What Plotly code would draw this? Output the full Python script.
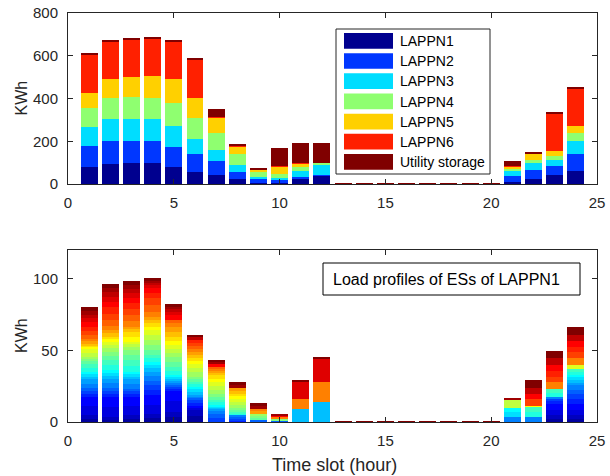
import plotly.graph_objects as go

# ---------------- data ----------------
hours = list(range(1, 25))
x_tick_vals = [0, 5, 10, 15, 20, 25]
top_y_ticks = [0, 200, 400, 600, 800]
bottom_y_ticks = [0, 50, 100]

series_names = ["LAPPN1", "LAPPN2", "LAPPN3", "LAPPN4", "LAPPN5", "LAPPN6", "Utility storage"]

lappn1 = [78, 94, 97, 97, 78, 56, 41, 23, 6, 3, 28, 41, 0, 0, 0, 0, 0, 0, 0, 0, 11, 25, 44, 62]
lappn2 = [100, 109, 103, 106, 94, 83, 65, 32, 16, 14, 5, 3, 0, 0, 0, 0, 0, 0, 0, 0, 26, 42, 42, 77]
lappn3 = [90, 103, 103, 101, 101, 70, 51, 32, 12, 13, 28, 43, 0, 0, 0, 0, 0, 0, 0, 0, 24, 33, 28, 61]
lappn4 = [88, 98, 104, 100, 105, 98, 80, 55, 22, 15, 20, 13, 0, 0, 0, 0, 0, 0, 0, 0, 11, 12, 17, 39]
lappn5 = [70, 86, 94, 101, 113, 97, 72, 33, 11, 39, 16, 0, 0, 0, 0, 0, 0, 0, 0, 0, 11, 30, 22, 34]
lappn6 = [178, 178, 174, 178, 177, 179, 3, 3, 3, 2, 3, 0, 0, 0, 0, 0, 0, 0, 0, 0, 3, 3, 178, 173]
utility = [7, 6, 10, 7, 7, 5, 39, 5, 5, 82, 90, 93, 3, 3, 3, 3, 3, 3, 3, 3, 22, 6, 6, 9]

top_colors = ["#00008F", "#0037FF", "#00DDFF", "#8FFF70", "#FFD000", "#FF2000", "#800000"]

# Load of each of the 32 ESs of LAPPN1, one list per hour (ES1 ... ES32)
h01 = [2.3, 2.4, 6.4, 6.4, 2.1, 2.1, 2.1, 3.0, 3.1, 1.7, 1.7, 1.7, 2.9, 2.9, 1.6, 1.6,
       1.5, 2.6, 2.6, 1.5, 1.5, 1.3, 1.3, 1.6, 2.7, 2.7, 2.7, 4.0, 2.5, 2.5, 2.5, 2.5]
h02 = [1.7, 1.8, 7.0, 7.0, 2.1, 2.1, 2.1, 3.2, 3.3, 2.0, 2.0, 2.0, 3.5, 3.5, 2.8, 2.7,
       2.7, 2.3, 2.2, 1.8, 1.7, 2.4, 2.3, 3.0, 4.0, 4.4, 4.4, 4.0, 3.5, 3.0, 2.7, 3.3]
h03 = [2.3, 2.4, 6.4, 6.4, 1.9, 1.9, 2.0, 3.3, 3.3, 1.7, 1.7, 1.7, 4.0, 4.2, 3.5, 3.5,
       2.0, 1.9, 1.9, 3.5, 3.5, 1.7, 1.8, 4.1, 4.1, 4.1, 4.1, 3.5, 3.3, 3.0, 3.0, 3.0]
h04 = [2.9, 2.9, 6.4, 6.5, 3.5, 3.5, 3.0, 3.2, 3.1, 2.4, 2.3, 2.3, 2.4, 2.3, 3.5, 3.5,
       3.5, 3.5, 3.5, 2.4, 2.3, 2.3, 2.3, 3.5, 4.8, 4.8, 3.3, 3.5, 2.0, 1.7, 1.6, 1.7]
h05 = [3.5, 3.5, 7.6, 7.6, 1.2, 1.2, 1.2, 1.7, 1.7, 1.2, 1.2, 1.1, 2.9, 2.9, 3.5, 3.5,
       2.6, 2.8, 2.8, 2.9, 2.9, 3.5, 3.5, 2.4, 2.4, 0, 0, 3.4, 2.0, 1.9, 1.9, 1.9]
h06 = [4.1, 4.1, 1.5, 1.5, 2.3, 2.4, 1.0, 1.1, 1.1, 1.8, 1.8, 1.8, 1.8, 1.8, 1.7, 1.7,
       3.3, 3.0, 3.0, 2.1, 2.1, 2.0, 2.0, 2.0, 2.1, 2.1, 2.0, 0, 0, 1.8, 0, 1.7]
h07 = [0, 0, 0, 0, 0, 2.9, 2.9, 1.8, 1.7, 0.8, 0.8, 0.8, 2.0, 2.0, 1.8, 1.8,
       2.9, 2.9, 2.9, 2.3, 2.3, 1.8, 1.8, 1.2, 1.2, 0, 0, 1.6, 0, 0, 1.5, 1.6]
h08 = [0, 0, 0, 0, 1.3, 1.3, 1.3, 1.2, 0, 0, 0, 0, 1.0, 1.0, 1.1, 1.9,
       1.9, 2.1, 2.1, 1.8, 1.8, 2.0, 2.0, 0, 0, 0, 0, 0, 0, 0, 2.1, 2.1]
h09 = [0, 0, 0, 0, 0, 0, 1.6, 0, 0, 0, 0, 0, 0, 0, 1.3, 1.4,
       1.3, 0, 0, 0, 0, 0, 1.8, 1.9, 0, 0, 0, 0, 0, 0, 2.0, 2.0]
h10 = [0, 0, 0, 0, 0, 0, 1.2, 0, 0, 0, 0, 0, 0, 0, 0, 1.2,
       0, 0, 0, 0, 0, 0, 0, 1.2, 0, 0, 0, 1.0, 0, 0, 0.8, 0]
h11 = [0, 0, 0, 0, 0, 0, 0, 0, 0, 8.9, 0, 0, 0, 0, 0, 0,
       0, 0, 0, 0, 0, 0, 0, 7.0, 0, 0, 0, 0, 12.1, 0, 0, 1.2]
h12 = [0, 0, 0, 0, 0, 0, 0, 0, 0, 14.0, 0, 0, 0, 0, 0, 0,
       0, 0, 0, 0, 0, 0, 0, 14.0, 0, 0, 0, 0, 15.7, 0, 0, 1.6]
h13 = [0, 0, 0, 0, 0, 0, 0, 0, 0, 0, 0, 0, 0, 0, 0, 0,
       0, 0, 0, 0, 0, 0, 0, 0, 0, 0, 0, 0, 0, 0, 0, 0.6]
h14 = [0, 0, 0, 0, 0, 0, 0, 0, 0, 0, 0, 0, 0, 0, 0, 0,
       0, 0, 0, 0, 0, 0, 0, 0, 0, 0, 0, 0, 0, 0, 0, 0.6]
h15 = [0, 0, 0, 0, 0, 0, 0, 0, 0, 0, 0, 0, 0, 0, 0, 0,
       0, 0, 0, 0, 0, 0, 0, 0, 0, 0, 0, 0, 0, 0, 0, 0.6]
h16 = [0, 0, 0, 0, 0, 0, 0, 0, 0, 0, 0, 0, 0, 0, 0, 0,
       0, 0, 0, 0, 0, 0, 0, 0, 0, 0, 0, 0, 0, 0, 0, 0.6]
h17 = [0, 0, 0, 0, 0, 0, 0, 0, 0, 0, 0, 0, 0, 0, 0, 0,
       0, 0, 0, 0, 0, 0, 0, 0, 0, 0, 0, 0, 0, 0, 0, 0.6]
h18 = [0, 0, 0, 0, 0, 0, 0, 0, 0, 0, 0, 0, 0, 0, 0, 0,
       0, 0, 0, 0, 0, 0, 0, 0, 0, 0, 0, 0, 0, 0, 0, 0.6]
h19 = [0, 0, 0, 0, 0, 0, 0, 0, 0, 0, 0, 0, 0, 0, 0, 0,
       0, 0, 0, 0, 0, 0, 0, 0, 0, 0, 0, 0, 0, 0, 0, 0.6]
h20 = [0, 0, 0, 0, 0, 0, 0, 0, 0, 0, 0, 0, 0, 0, 0, 0,
       0, 0, 0, 0, 0, 0, 0, 0, 0, 0, 0, 0, 0, 0, 0, 0.6]
h21 = [0, 0, 0, 0, 0, 0, 0, 3.5, 0, 0, 3.2, 3.1, 0, 0, 0, 0,
       0, 5.4, 0, 0, 0, 0, 0, 0, 0, 0, 0, 0, 0, 0, 1.6, 0]
h22 = [0, 0, 0, 0, 0, 0, 0, 3.5, 0, 0, 0, 0, 3.5, 3.5, 0, 0,
       0, 0, 0, 0.7, 0, 0, 0, 0, 0, 5.1, 0, 3.5, 0, 4.0, 0, 5.8]
h23 = [2.3, 2.4, 4.0, 4.1, 1.7, 1.8, 0, 1.2, 0, 0, 0, 0, 2.9, 2.9, 0, 0,
       0, 0, 0, 0, 0, 0, 0, 4.7, 0, 3.5, 4.0, 4.2, 0, 4.7, 0, 5.3]
h24 = [2.3, 2.4, 4.0, 4.1, 3.3, 3.3, 3.1, 3.2, 1.7, 1.8, 1.9, 2.0, 2.1, 2.1, 0, 0,
       0, 0, 2.8, 0, 0, 0, 0, 4.7, 0, 3.8, 3.9, 4.0, 0, 4.2, 0, 5.8]

hourly_es = [h01, h02, h03, h04, h05, h06, h07, h08, h09, h10, h11, h12,
             h13, h14, h15, h16, h17, h18, h19, h20, h21, h22, h23, h24]
n_es = len(h01)

annotation_text = "Load profiles of ESs of LAPPN1"
y_title = "KWh"
x_title = "Time slot (hour)"


# ---------------- style helpers ----------------
def jet(m):
    """MATLAB jet(m) colormap as rgb strings."""
    n = -(-m // 4)
    u = [i / n for i in range(1, n + 1)] + [1.0] * (n - 1) + [i / n for i in range(n, 0, -1)]
    g0 = -(-n // 2) - (1 if m % 4 == 1 else 0)
    cols = [[0.0, 0.0, 0.0] for _ in range(m)]
    for k, val in enumerate(u):
        g = g0 + k + 1
        r = g + n
        b = g - n
        if 1 <= r <= m:
            cols[r - 1][0] = val
        if 1 <= g <= m:
            cols[g - 1][1] = val
        if 1 <= b <= m:
            cols[b - 1][2] = val
    return ["rgb(%d,%d,%d)" % tuple(round(255 * c) for c in col) for col in cols]


FONT = "Liberation Sans, Arial, Helvetica, sans-serif"
AX = "#262626"
W_FIG, H_FIG = 610, 476
L, R, T, B = 68, 597, 13, 422


def px_x(p):
    return (p - L) / (R - L)


def px_y(p):
    return (B - p) / (B - T)


fig = go.Figure()

top_series = [lappn1, lappn2, lappn3, lappn4, lappn5, lappn6, utility]
for name, vals, col in zip(series_names, top_series, top_colors):
    fig.add_trace(go.Bar(x=hours, y=vals, name=name, marker_color=col,
                         marker_line_width=0, xaxis="x", yaxis="y", showlegend=False))

es_colors = jet(n_es)
for i in range(n_es):
    vals = [h[i] for h in hourly_es]
    fig.add_trace(go.Bar(x=hours, y=vals, name="ES%d" % (i + 1), marker_color=es_colors[i],
                         marker_line_width=0, xaxis="x2", yaxis="y2", showlegend=False))

axis_common = dict(
    showline=True, linecolor=AX, linewidth=1, mirror="ticks",
    ticks="inside", ticklen=5, tickwidth=1, tickcolor=AX,
    showgrid=False, zeroline=False, automargin=False,
    tickfont=dict(family=FONT, size=15, color=AX),
)

fig.update_layout(
    width=W_FIG, height=H_FIG, autosize=False,
    margin=dict(l=L, r=W_FIG - R, t=T, b=H_FIG - B, pad=0, autoexpand=False),
    paper_bgcolor="white", plot_bgcolor="white",
    barmode="stack", bargap=0.2,
    showlegend=False,
    font=dict(family=FONT, color=AX),
    xaxis=dict(domain=[0, 1], anchor="y", range=[0, 25], tickvals=x_tick_vals,
               ticklabelstandoff=5, **axis_common),
    yaxis=dict(domain=[px_y(184), 1], anchor="x", range=[0, 800], tickvals=top_y_ticks,
               ticklabelstandoff=6, **axis_common),
    xaxis2=dict(domain=[0, 1], anchor="y2", range=[0, 25], tickvals=x_tick_vals,
                ticklabelstandoff=5, **axis_common),
    yaxis2=dict(domain=[0, px_y(250)], anchor="x2", range=[0, 120], tickvals=bottom_y_ticks,
                ticklabelstandoff=6, **axis_common),
)

shapes = []
annotations = []

# custom legend in the top panel
box_l, box_r, box_t, box_b = 336, 490, 29, 174
shapes.append(dict(type="rect", xref="paper", yref="paper",
                   x0=px_x(box_l), x1=px_x(box_r), y0=px_y(box_b), y1=px_y(box_t),
                   fillcolor="white", line=dict(color=AX, width=1), layer="above"))
for i, (name, col) in enumerate(zip(series_names, top_colors)):
    top = 33 + 20.17 * i
    shapes.append(dict(type="rect", xref="paper", yref="paper",
                       x0=px_x(344), x1=px_x(393), y0=px_y(top + 15.7), y1=px_y(top),
                       fillcolor=col, line=dict(width=0), layer="above"))
    annotations.append(dict(xref="paper", yref="paper", x=px_x(398), y=px_y(top + 8),
                            text=name, showarrow=False, xanchor="left", yanchor="middle",
                            font=dict(family=FONT, size=14, color="black")))

# text box in the bottom panel
shapes.append(dict(type="rect", xref="paper", yref="paper",
                   x0=px_x(323), x1=px_x(580), y0=px_y(295), y1=px_y(263),
                   fillcolor="white", line=dict(color="black", width=1), layer="above"))
annotations.append(dict(xref="paper", yref="paper", x=px_x(331), y=px_y(279.5),
                        text=annotation_text, showarrow=False, xanchor="left", yanchor="middle",
                        font=dict(family=FONT, size=16, color="black")))

# axis titles
annotations.append(dict(xref="paper", yref="paper", x=px_x(21), y=px_y(98.5),
                        text=y_title, textangle=-90, showarrow=False,
                        xanchor="center", yanchor="middle",
                        font=dict(family=FONT, size=16, color=AX)))
annotations.append(dict(xref="paper", yref="paper", x=px_x(21), y=px_y(336),
                        text=y_title, textangle=-90, showarrow=False,
                        xanchor="center", yanchor="middle",
                        font=dict(family=FONT, size=16, color=AX)))
annotations.append(dict(xref="paper", yref="paper", x=px_x(334), y=px_y(465),
                        text=x_title, showarrow=False, xanchor="center", yanchor="middle",
                        font=dict(family=FONT, size=18, color=AX)))

fig.update_layout(shapes=shapes, annotations=annotations)

fig.write_html(
    "out.html",
    config={"displayModeBar": False, "responsive": False},
    post_script="document.body.style.margin='0';document.body.style.padding='0';"
                "document.body.style.overflow='hidden';",
)
